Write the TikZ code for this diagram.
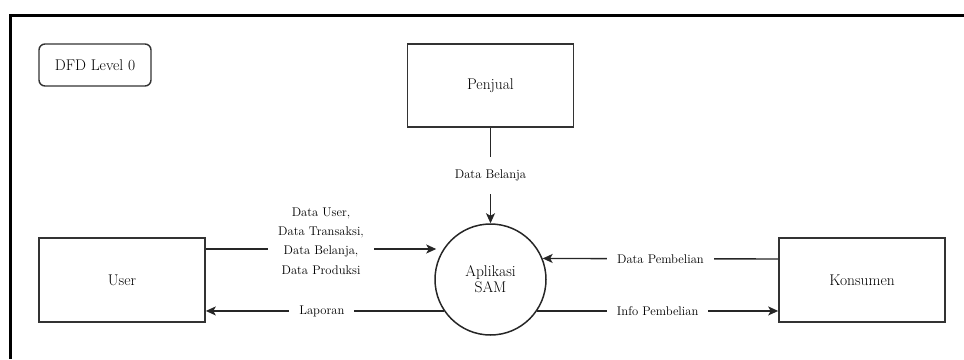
\documentclass[tikz,border=0pt]{standalone}
\usetikzlibrary{arrows.meta}
\begin{document}
\begin{tikzpicture}[x=1pt,y=-1pt,
  entity/.style={draw=black!80,line width=1.6pt,minimum width=166pt,minimum height=83pt,inner sep=0pt,font=\rmfamily\fontsize{15.5}{18}\selectfont,text=black},
  process/.style={circle,draw=black!85,line width=1.5pt,minimum size=111pt,inner sep=0pt,align=center,font=\rmfamily\fontsize{15.5}{18}\selectfont,text=black},
  tag/.style={draw=black!80,line width=1.4pt,rounded corners=6pt,minimum width=112pt,minimum height=42pt,inner sep=0pt,font=\rmfamily\fontsize{15.5}{18}\selectfont,text=black},
  flow/.style={draw=black!85,line width=1.4pt,-{Stealth[length=10pt,width=9pt,inset=2.5pt]}},
  elabel/.style={fill=white,inner xsep=10pt,inner ysep=2pt,font=\rmfamily\fontsize{12.6}{19.3}\selectfont,text=black,align=center},
  frame/.style={line width=3pt,black}]
\useasboundingbox (0,0) rectangle (964,359);

% page frame (top and left edges)
\draw[frame] (9,15.5) -- (964,15.5);
\draw[frame] (10.5,14) -- (10.5,359);

% title tag
\node[tag] (title) at (95,65) {DFD Level 0};

% external entities and the process
\node[entity] (penjual) at (490.5,85.5) {Penjual};
\node[entity,minimum height=84pt] (user) at (122,280) {User};
\node[entity,minimum height=84pt] (konsumen) at (862,280) {Konsumen};
\node[process] (proc) at (490.5,279.5) {Aplikasi\\[-2pt]SAM};

% free ends of the horizontal flows
\coordinate (uin) at ([yshift=31pt]user.east);
\coordinate (uend) at ([xshift=2pt]proc.west |- uin);
\coordinate (kin) at ([yshift=21pt]konsumen.west);

% data flows
\draw[flow] (penjual.south) -- node[elabel,inner ysep=13pt]{Data Belanja} (proc.north);
\draw[flow] (uin) -- node[elabel,yshift=8pt]{Data User,\\Data Transaksi,\\Data Belanja,\\Data Produksi} (uend);
\draw[flow] (proc.214) -- node[elabel,xshift=-3pt]{Laporan} (proc.214 -| user.east);
\draw[flow] (kin) -- node[elabel]{Data Pembelian} (proc.22);
\draw[flow] (proc.-34) -- node[elabel]{Info Pembelian} (proc.-34 -| konsumen.west);
\end{tikzpicture}
\end{document}
